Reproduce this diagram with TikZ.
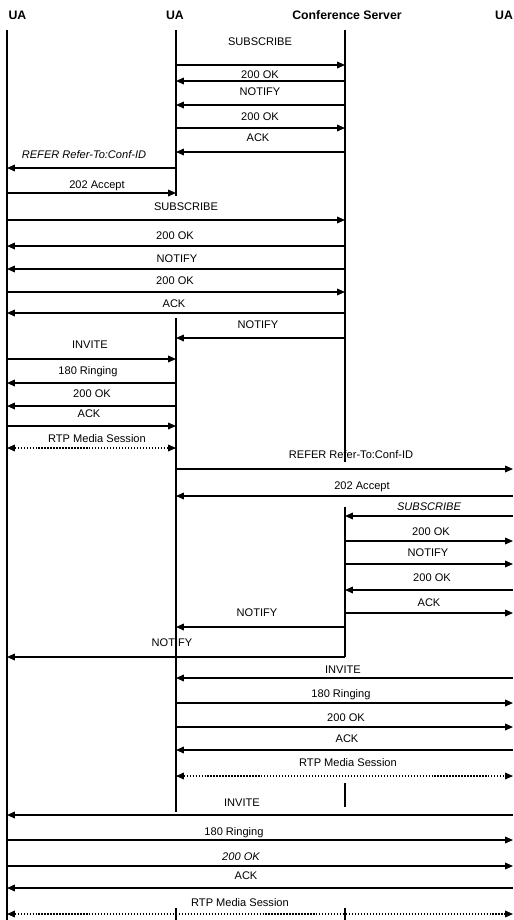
\documentclass[tikz,border=0pt]{standalone}
\usepackage{fontspec}
\setmainfont{Liberation Sans}
\usetikzlibrary{arrows.meta}

\tikzset{
  life/.style={line width=0.6pt},
  msg/.style={line width=0.7pt, -{Triangle[length=4.5pt,width=3.8pt]}},
  media/.style={line width=0.7pt, densely dotted,
    {Triangle[length=4.5pt,width=3.8pt]}-{Triangle[length=4.5pt,width=3.8pt]}},
  lbl/.style={font=\fontsize{6.3}{7}\selectfont, inner sep=0pt, text height=4.5pt, text depth=0pt},
  head/.style={font=\fontsize{7}{8}\selectfont\bfseries, inner sep=0pt, text height=5pt, text depth=0pt}
}

\begin{document}
\begin{tikzpicture}[x=0.02cm, y=-0.02cm]
    \useasboundingbox (0,0) rectangle (514,920);

    % Participants
    \node[head] (h1) at (17.5,15) {UA};
    \node[head] (h2) at (175,15) {UA};
    \node[head] (h3) at (347,15) {Conference Server};
    \node[head] (h4) at (504,15) {UA};

    % Lifeline positions
    \coordinate (ua1) at (7,0);
    \coordinate (ua2) at (176,0);
    \coordinate (srv) at (345,0);
    \coordinate (ua3) at (513,0);

    % Lifelines
    \draw[life] (ua1 |- 0,30) -- (ua1 |- 0,920);
    \draw[life] (ua2 |- 0,30) -- (ua2 |- 0,196);
    \draw[life] (ua2 |- 0,318) -- (ua2 |- 0,812);
    \draw[life] (ua2 |- 0,908) -- (ua2 |- 0,920);
    \draw[life] (srv |- 0,30) -- (srv |- 0,462);
    \draw[life] (srv |- 0,507) -- (srv |- 0,657);
    \draw[life] (srv |- 0,783) -- (srv |- 0,807);
    \draw[life] (srv |- 0,908) -- (srv |- 0,920);

    % Subscription of the first UA
    \draw[msg] (ua2 |- 0,65) -- (srv |- 0,65) node[lbl] (m1) at (260,42) {SUBSCRIBE};
    \draw[msg] (srv |- 0,81) -- (ua2 |- 0,81) node[lbl] (m2) at (260,75) {200 OK};
    \draw[msg] (srv |- 0,105) -- (ua2 |- 0,105) node[lbl] (m3) at (260,92) {NOTIFY};
    \draw[msg] (ua2 |- 0,128) -- (srv |- 0,128) node[lbl] (m4) at (260,117) {200 OK};
    \draw[msg] (srv |- 0,152) -- (ua2 |- 0,152) node[lbl] (m5) at (258,138) {ACK};

    % Referral to the left UA
    \draw[msg] (ua2 |- 0,168) -- (ua1 |- 0,168) node[lbl] (m6) at (84,155) {\itshape REFER Refer-To:Conf-ID};
    \draw[msg] (ua1 |- 0,193) -- (ua2 |- 0,193) node[lbl] (m7) at (97,185) {202 Accept};
    \draw[msg] (ua1 |- 0,220) -- (srv |- 0,220) node[lbl] (m8) at (186,207) {SUBSCRIBE};
    \draw[msg] (srv |- 0,246) -- (ua1 |- 0,246) node[lbl] (m9) at (175,236) {200 OK};
    \draw[msg] (srv |- 0,269) -- (ua1 |- 0,269) node[lbl] (m10) at (177,259) {NOTIFY};
    \draw[msg] (ua1 |- 0,292) -- (srv |- 0,292) node[lbl] (m11) at (175,281) {200 OK};
    \draw[msg] (srv |- 0,313) -- (ua1 |- 0,313) node[lbl] (m12) at (174,304) {ACK};
    \draw[msg] (srv |- 0,338) -- (ua2 |- 0,338) node[lbl] (m13) at (258,325) {NOTIFY};

    % Session between the two left UAs
    \draw[msg] (ua1 |- 0,359) -- (ua2 |- 0,359) node[lbl] (m14) at (90,345) {INVITE};
    \draw[msg] (ua2 |- 0,383) -- (ua1 |- 0,383) node[lbl] (m15) at (88,371) {180 Ringing};
    \draw[msg] (ua2 |- 0,406) -- (ua1 |- 0,406) node[lbl] (m16) at (92,394) {200 OK};
    \draw[msg] (ua1 |- 0,426) -- (ua2 |- 0,426) node[lbl] (m17) at (89,414) {ACK};
    \draw[media] (ua1 |- 0,448) -- (ua2 |- 0,448) node[lbl] (m18) at (97,439) {RTP Media Session};

    % Referral to the right UA
    \draw[msg] (ua2 |- 0,469) -- (ua3 |- 0,469) node[lbl] (m19) at (351,455) {REFER Refer-To:Conf-ID};
    \draw[msg] (ua3 |- 0,496) -- (ua2 |- 0,496) node[lbl] (m20) at (362,486) {202 Accept};
    \draw[msg] (ua3 |- 0,516) -- (srv |- 0,516) node[lbl] (m21) at (429,507) {\itshape SUBSCRIBE};
    \draw[msg] (srv |- 0,541) -- (ua3 |- 0,541) node[lbl] (m22) at (431,532) {200 OK};
    \draw[msg] (srv |- 0,564) -- (ua3 |- 0,564) node[lbl] (m23) at (428,553) {NOTIFY};
    \draw[msg] (ua3 |- 0,590) -- (srv |- 0,590) node[lbl] (m24) at (432,578) {200 OK};
    \draw[msg] (srv |- 0,613) -- (ua3 |- 0,613) node[lbl] (m25) at (429,603) {ACK};
    \draw[msg] (srv |- 0,627) -- (ua2 |- 0,627) node[lbl] (m26) at (257,613) {NOTIFY};
    \draw[msg] (srv |- 0,657) -- (ua1 |- 0,657) node[lbl] (m27) at (172,643) {NOTIFY};

    % Session between the middle and right UA
    \draw[msg] (ua3 |- 0,678) -- (ua2 |- 0,678) node[lbl] (m28) at (343,670) {INVITE};
    \draw[msg] (ua2 |- 0,703) -- (ua3 |- 0,703) node[lbl] (m29) at (341,694) {180 Ringing};
    \draw[msg] (ua2 |- 0,727) -- (ua3 |- 0,727) node[lbl] (m30) at (346,718) {200 OK};
    \draw[msg] (ua3 |- 0,750) -- (ua2 |- 0,750) node[lbl] (m31) at (347,739) {ACK};
    \draw[media] (ua2 |- 0,776) -- (ua3 |- 0,776) node[lbl] (m32) at (348,763) {RTP Media Session};

    % Session between the left and right UA
    \draw[msg] (ua3 |- 0,815) -- (ua1 |- 0,815) node[lbl] (m33) at (242,803) {INVITE};
    \draw[msg] (ua1 |- 0,840) -- (ua3 |- 0,840) node[lbl] (m34) at (234,832) {180 Ringing};
    \draw[msg] (ua1 |- 0,866) -- (ua3 |- 0,866) node[lbl] (m35) at (241,857) {\itshape 200 OK};
    \draw[msg] (ua3 |- 0,888) -- (ua1 |- 0,888) node[lbl] (m36) at (246,876) {ACK};
    \draw[media] (ua1 |- 0,914) -- (ua3 |- 0,914) node[lbl] (m37) at (240,903) {RTP Media Session};
\end{tikzpicture}
\end{document}
